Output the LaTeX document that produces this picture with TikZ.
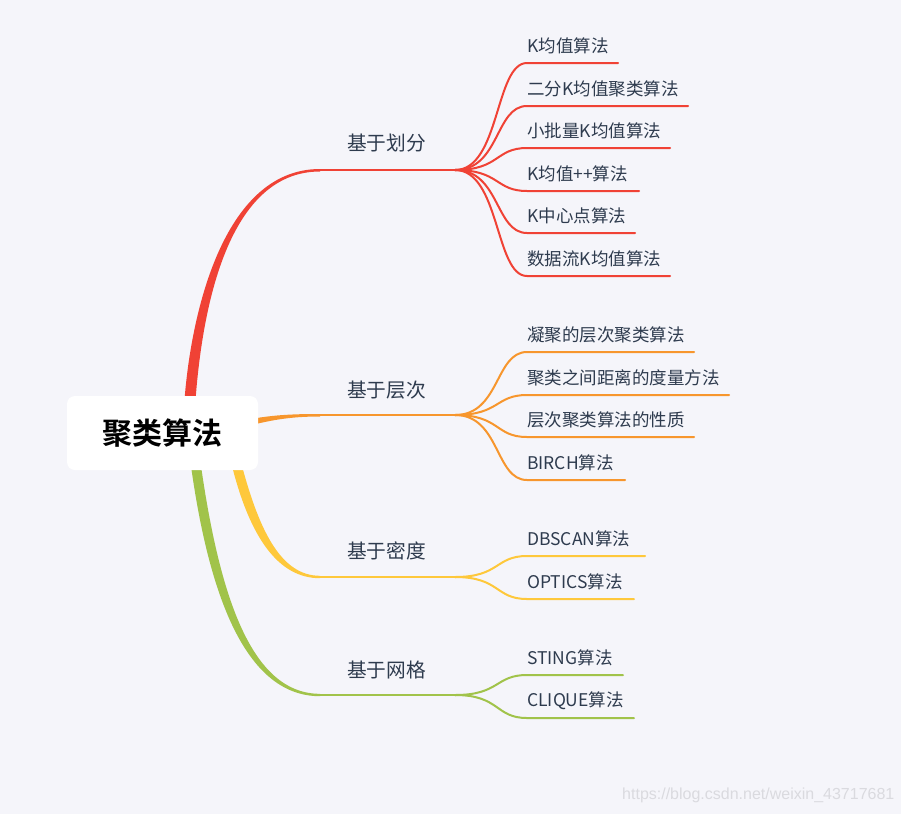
\documentclass[tikz,border=0pt]{standalone}
\usepackage{fontspec}
\setmainfont{Noto Sans CJK SC}[BoldFont={Noto Sans CJK SC Bold}]
\newfontfamily\wmfont{Liberation Sans}
\definecolor{bg}{HTML}{F5F5FA}
\definecolor{cr}{HTML}{F04235}
\definecolor{co}{HTML}{F7962D}
\definecolor{cy}{HTML}{FEC83B}
\definecolor{cg}{HTML}{A1C34A}
\definecolor{txt}{HTML}{2E3B4E}
\definecolor{wm}{HTML}{DADADF}
\newcommand{\leafb}[6]{%
  \node[leaf] (#1) at (527,#4-17) {#6};
  \coordinate (#1s) at (527,#4);
  \coordinate (#1e) at (#5,#4);
  \draw[ln,#2] (#3) .. controls +(45,0) and +(-32,0) .. (#1s) -- (#1e);}
\begin{document}
\begin{tikzpicture}[x=1pt,y=-1pt,
  leaf/.style={anchor=west,inner sep=0pt,font=\fontsize{17.5}{17.5}\selectfont,text=txt},
  topic/.style={anchor=west,inner sep=0pt,font=\fontsize{19.7}{19.7}\selectfont,text=txt},
  ln/.style={line width=2pt,line cap=round}]
\fill[bg] (0,0) rectangle (901,814);
\useasboundingbox (0,0) rectangle (901,814);

% tapered main branches
\fill[cr] (184.5,400) .. controls (190.5,320) and (221,169) .. (320,169)
  -- (320,171.5) .. controls (224,171.5) and (201.5,320) .. (195.5,400) -- cycle;
\fill[co] (240,421) .. controls (270,415) and (290,414) .. (320,414)
  -- (320,416.5) .. controls (290,416.5) and (270,420) .. (240,428) -- cycle;
\fill[cy] (232,466) .. controls (250,537) and (278,578.2) .. (320,578.2)
  -- (320,575.8) .. controls (282,575.8) and (260,533) .. (242,466) -- cycle;
\fill[cg] (191,466) .. controls (210,602) and (248,696.2) .. (320,696.2)
  -- (320,693.8) .. controls (252,693.8) and (220,598) .. (201,466) -- cycle;

% root
\node[fill=white,rounded corners=8pt,minimum width=191pt,minimum height=74pt,inner sep=0pt,
  font=\bfseries\fontsize{30}{30}\selectfont] (root) at (162.5,433) {聚类算法};

% topic lines and labels
\coordinate (r1) at (320,170); \coordinate (f1) at (455,170);
\coordinate (r2) at (320,415); \coordinate (f2) at (455,415);
\coordinate (r3) at (320,577); \coordinate (f3) at (455,577);
\coordinate (r4) at (320,695); \coordinate (f4) at (455,695);
\draw[ln,cr] (r1) -- (f1);
\draw[ln,co] (r2) -- (f2);
\draw[ln,cy] (r3) -- (f3);
\draw[ln,cg] (r4) -- (f4);
\node[topic] (t1) at (347,143) {基于划分};
\node[topic] (t2) at (347,390) {基于层次};
\node[topic] (t3) at (347,551) {基于密度};
\node[topic] (t4) at (347,670) {基于网格};

% leaves
\leafb{a1}{cr}{f1}{63}{618}{K均值算法}
\leafb{a2}{cr}{f1}{106}{688}{二分K均值聚类算法}
\leafb{a3}{cr}{f1}{148}{670}{小批量K均值算法}
\leafb{a4}{cr}{f1}{191}{639}{K均值++算法}
\leafb{a5}{cr}{f1}{233}{635}{K中心点算法}
\leafb{a6}{cr}{f1}{276}{670}{数据流K均值算法}
\leafb{b1}{co}{f2}{352}{694}{凝聚的层次聚类算法}
\leafb{b2}{co}{f2}{395}{729}{聚类之间距离的度量方法}
\leafb{b3}{co}{f2}{437}{694}{层次聚类算法的性质}
\leafb{b4}{co}{f2}{480}{625}{BIRCH算法}
\leafb{c1}{cy}{f3}{556}{645}{DBSCAN算法}
\leafb{c2}{cy}{f3}{599}{634}{OPTICS算法}
\leafb{d1}{cg}{f4}{675}{623}{STING算法}
\leafb{d2}{cg}{f4}{718}{634}{CLIQUE算法}

% watermark
\node[anchor=west,inner sep=0pt,text=wm,font=\wmfont\fontsize{16}{16}\selectfont] (wmk) at (622,795) {https://blog.csdn.net/weixin\_43717681};
\end{tikzpicture}
\end{document}
